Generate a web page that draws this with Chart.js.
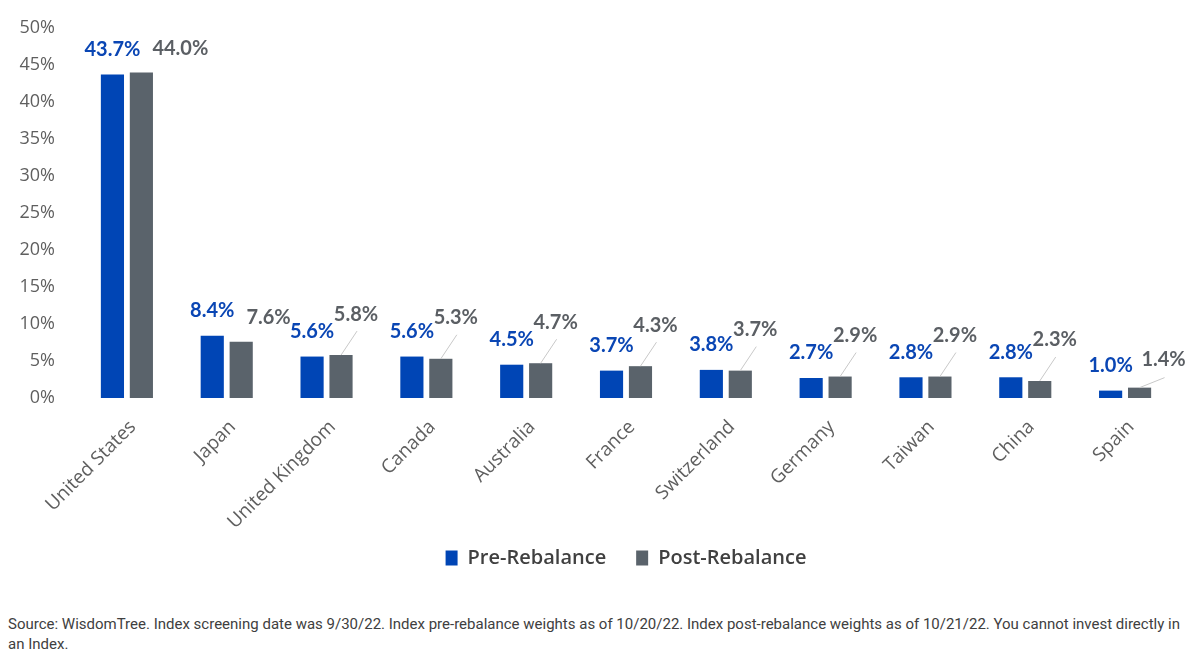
<!DOCTYPE html>
<html><head><meta charset="utf-8">
<script src="https://cdn.jsdelivr.net/npm/chart.js@4.4.1/dist/chart.umd.min.js"></script>
<style>
html,body{margin:0;padding:0;background:#fff;width:1200px;height:664px;overflow:hidden;}
#wrap{position:absolute;left:0;top:0;width:1200px;height:592px;}
#note{position:absolute;left:8px;top:614px;font-family:"Liberation Sans Narrow","Roboto",sans-serif;font-size:14px;line-height:20px;color:#404040;white-space:nowrap;transform-origin:0 0;}
</style></head><body>
<div id="wrap"><canvas id="c"></canvas></div>
<div id="note"><span id="l1">Source: WisdomTree. Index screening date was 9/30/22. Index pre-rebalance weights as of 10/20/22. Index post-rebalance weights as of 10/21/22. You cannot invest directly in</span><br>an Index.</div>
<script>
const categories = ["United States","Japan","United Kingdom","Canada","Australia","France","Switzerland","Germany","Taiwan","China","Spain"];
const preRebalance = [43.7, 8.4, 5.6, 5.6, 4.5, 3.7, 3.8, 2.7, 2.8, 2.8, 1.0];
const postRebalance = [44.0, 7.6, 5.8, 5.3, 4.7, 4.3, 3.7, 2.9, 2.9, 2.3, 1.4];
const seriesNames = ["Pre-Rebalance","Post-Rebalance"];
const yTicks = [0,5,10,15,20,25,30,35,40,45,50];

const BLUE = '#0045B5', GRAY = '#5A636B';
const LBLUE = '#0A46B4', LGRAY = '#5B5F64';

const labelPlugin = {
  id: 'vlabels',
  afterDatasetsDraw(chart) {
    const ctx = chart.ctx;
    const m0 = chart.getDatasetMeta(0), m1 = chart.getDatasetMeta(1);
    ctx.save();
    ctx.textAlign = 'center';
    ctx.textBaseline = 'middle';
    for (let i = 0; i < categories.length; i++) {
      const b0 = m0.data[i], b1 = m1.data[i];
      const t0 = preRebalance[i].toFixed(1) + '%';
      const t1 = postRebalance[i].toFixed(1) + '%';
      ctx.font = 'bold 20px Lato';
      const w0 = ctx.measureText(t0).width;
      const w1 = ctx.measureText(t1).width;
      let x0 = b0.x, x1, y1;
      ctx.strokeStyle = '#C8C8C8';
      ctx.lineWidth = 1;
      if (postRebalance[i] >= 7) {
        x1 = Math.max(b1.x + 10, b0.x + w0 / 2 + 12 + w1 / 2);
        y1 = b1.y - 24;
      } else if (postRebalance[i] < 2) {
        x1 = b1.x + 24;
        y1 = b1.y - 28;
        ctx.beginPath();
        ctx.moveTo(b1.x, b1.y);
        ctx.lineTo(b1.x + 25, b1.y - 10);
        ctx.stroke();
      } else {
        x1 = b1.x + 15;
        y1 = b1.y - 41;
        ctx.beginPath();
        ctx.moveTo(b1.x, b1.y);
        ctx.lineTo(b1.x + 16, b1.y - 24);
        ctx.stroke();
      }
      ctx.fillStyle = LBLUE;
      ctx.fillText(t0, x0, b0.y - 25);
      ctx.fillStyle = LGRAY;
      ctx.fillText(t1, x1, y1);
    }
    ctx.restore();
  }
};

new Chart(document.getElementById('c'), {
  type: 'bar',
  data: {
    labels: categories,
    datasets: [
      { label: seriesNames[0], data: preRebalance, backgroundColor: BLUE, categoryPercentage: 0.58, barPercentage: 0.8 },
      { label: seriesNames[1], data: postRebalance, backgroundColor: GRAY, categoryPercentage: 0.58, barPercentage: 0.8 }
    ]
  },
  options: {
    responsive: true,
    maintainAspectRatio: false,
    animation: false,
    layout: { padding: { top: 28, right: 25, left: 0, bottom: 14 } },
    scales: {
      x: {
        grid: { display: false, drawTicks: false },
        border: { display: false },
        ticks: { maxRotation: 45, minRotation: 45, color: '#5F5F5F', font: { family: 'Open Sans', size: 19 }, padding: 18, labelOffset: 6 },
        afterFit(s) { s.height = 120; s._computeLabelArea = function () { return undefined; }; }
      },
      y: {
        min: 0, max: 50,
        grid: { display: false, drawTicks: false },
        border: { display: false },
        afterBuildTicks(s) { s.ticks = yTicks.map(v => ({ value: v })); },
        ticks: { color: '#5F5F5F', font: { family: 'Open Sans', size: 18 }, padding: 22, callback: v => v + '%' },
        afterFit(s) { s.width = 77; s.paddingTop = 0; s.paddingBottom = 0; }
      }
    },
    plugins: {
      legend: {
        position: 'bottom',
        fullSize: false,
        labels: { boxWidth: 12, boxHeight: 15, padding: 30, color: '#404040', font: { family: 'Open Sans', size: 20, weight: '600' } }
      },
      tooltip: { enabled: false }
    }
  },
  plugins: [labelPlugin]
});

(function fitNote(){
  const n = document.getElementById('note');
  const w = document.getElementById('l1').getBoundingClientRect().width;
  if (w > 0) n.style.transform = 'scaleX(' + (1172 / w) + ')';
})();
</script>
</body></html>
